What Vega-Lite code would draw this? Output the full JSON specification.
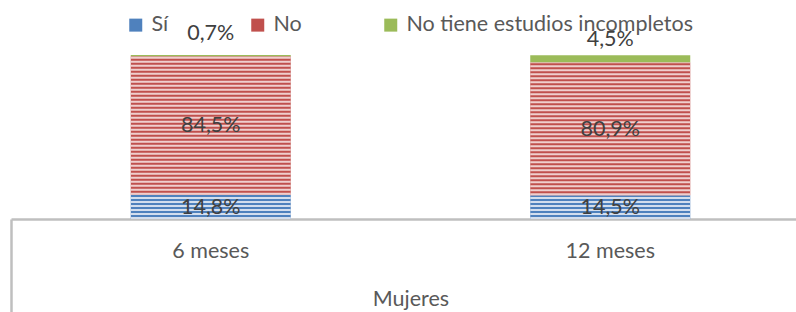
{
  "$schema": "https://vega.github.io/schema/vega-lite/v6.json",
  "width": 785,
  "height": 164,
  "autosize": "none",
  "padding": {"left": 11, "top": 55, "right": 0, "bottom": 93},
  "background": "white",
  "config": {
    "view": {"stroke": null},
    "font": "Lato",
    "locale": {"number": {"decimal": ",", "thousands": ".", "grouping": [3], "currency": ["", " €"]}}
  },
  "data": {
    "values": [
      {"periodo": "6 meses", "serie": "Sí", "orden": 1, "valor": 0.148},
      {"periodo": "6 meses", "serie": "No", "orden": 2, "valor": 0.845},
      {"periodo": "6 meses", "serie": "No tiene estudios incompletos", "orden": 3, "valor": 0.007},
      {"periodo": "12 meses", "serie": "Sí", "orden": 1, "valor": 0.145},
      {"periodo": "12 meses", "serie": "No", "orden": 2, "valor": 0.809},
      {"periodo": "12 meses", "serie": "No tiene estudios incompletos", "orden": 3, "valor": 0.045}
    ]
  },
  "transform": [
    {"stack": "valor", "groupby": ["periodo"], "sort": [{"field": "orden", "order": "ascending"}], "as": ["y0", "y1"]},
    {"calculate": "(datum.y0 + datum.y1) / 2", "as": "ymid"}
  ],
  "encoding": {
    "x": {
      "field": "periodo",
      "type": "nominal",
      "sort": ["6 meses", "12 meses"],
      "scale": {"range": [0, 799], "paddingInner": 0, "paddingOuter": 0},
      "axis": {
        "title": "Mujeres",
        "labelAngle": 0,
        "domainColor": "#BFBFBF",
        "domainWidth": 2.5,
        "bandPosition": 0,
        "tickColor": "#BFBFBF",
        "tickWidth": 2.5,
        "tickSize": 93,
        "tickOpacity": {"condition": {"test": "datum.value === '6 meses'", "value": 1}, "value": 0},
        "labelPadding": -72,
        "labelFont": "Lato",
        "labelFontSize": 21.5,
        "labelColor": "#595959",
        "titleFont": "Lato",
        "titleFontSize": 21.5,
        "titleFontWeight": "normal",
        "titleColor": "#595959",
        "titleBaseline": "middle",
        "titleY": 80
      }
    }
  },
  "layer": [
    {
      "mark": {"type": "bar", "width": 160},
      "encoding": {
        "y": {"field": "y0", "type": "quantitative", "scale": {"domain": [0, 1]}, "axis": null},
        "y2": {"field": "y1"},
        "color": {
          "field": "serie",
          "type": "nominal",
          "scale": {"domain": ["Sí", "No", "No tiene estudios incompletos"], "range": ["#4F81BD", "#C0504D", "#9BBB59"]},
          "legend": {
            "orient": "none",
            "legendX": 114,
            "legendY": -41,
            "direction": "horizontal",
            "title": null,
            "symbolType": "square",
            "symbolSize": 169,
            "symbolStrokeWidth": 0,
            "labelFont": "Lato",
            "labelFontSize": 21.5,
            "labelColor": "#595959",
            "labelOffset": 5,
            "columnPadding": 78,
            "padding": 0,
            "labelLimit": 0
          }
        }
      }
    },
    {
      "transform": [{"filter": "datum.orden < 3"}],
      "mark": {"type": "rule", "strokeWidth": 160, "strokeDash": [2, 2]},
      "encoding": {
        "y": {"field": "y0", "type": "quantitative"},
        "y2": {"field": "y1"},
        "stroke": {
          "field": "serie",
          "type": "nominal",
          "scale": {"domain": ["Sí", "No"], "range": ["#D3DEEE", "#EFCFCE"]},
          "legend": null
        }
      }
    },
    {
      "transform": [{"filter": "datum.orden < 3"}],
      "mark": {"type": "text", "baseline": "middle", "align": "center", "font": "Lato", "fontSize": 21.5, "color": "#404040", "dy": 1},
      "encoding": {
        "y": {"field": "ymid", "type": "quantitative"},
        "text": {"field": "valor", "type": "quantitative", "format": ".1%"}
      }
    },
    {
      "transform": [{"filter": "datum.orden === 3 && datum.periodo === '6 meses'"}],
      "mark": {"type": "text", "baseline": "middle", "align": "center", "font": "Lato", "fontSize": 21.5, "color": "#404040", "dy": -21},
      "encoding": {
        "y": {"field": "y1", "type": "quantitative"},
        "text": {"field": "valor", "type": "quantitative", "format": ".1%"}
      }
    },
    {
      "transform": [{"filter": "datum.orden === 3 && datum.periodo === '12 meses'"}],
      "mark": {"type": "text", "baseline": "middle", "align": "center", "font": "Lato", "fontSize": 21.5, "color": "#404040", "dy": -15},
      "encoding": {
        "y": {"field": "y1", "type": "quantitative"},
        "text": {"field": "valor", "type": "quantitative", "format": ".1%"}
      }
    }
  ]
}
